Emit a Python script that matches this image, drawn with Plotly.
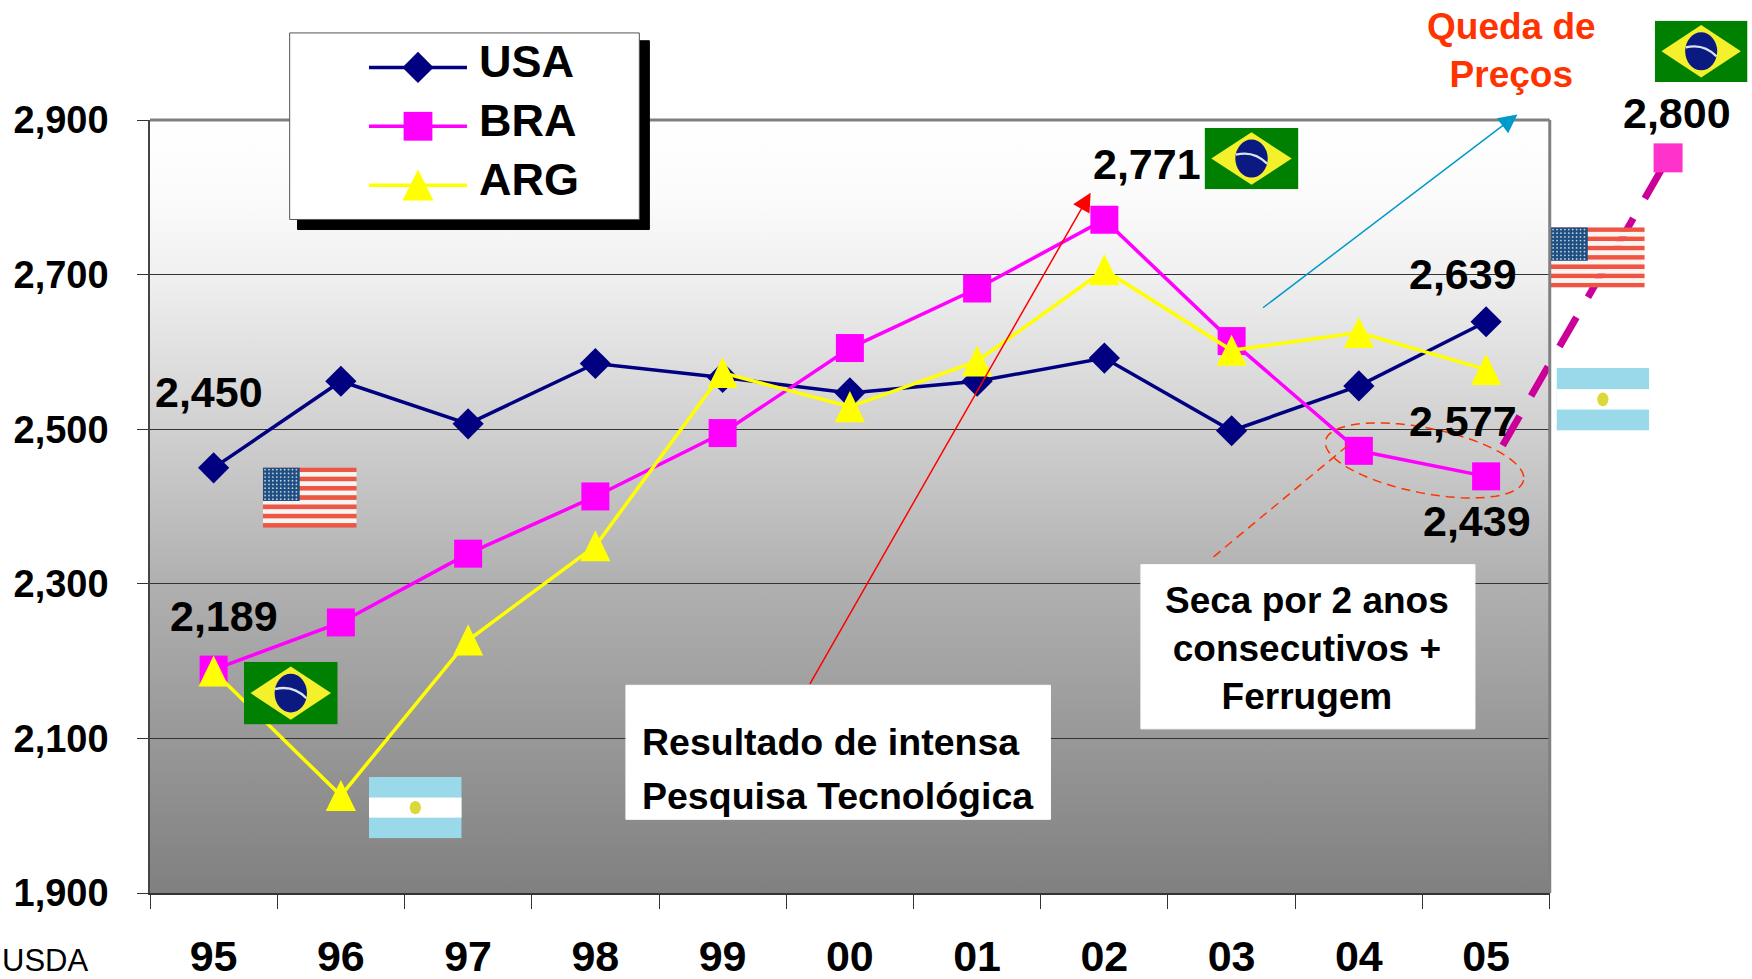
import base64
import numpy as np
import plotly.graph_objects as go

W, H = 1752, 979
L, R, T, B = 149.7, 1549.7, 119.5, 892.7
PW = W - L          # full plotting width, the real axes take only part of it
S = 1752 / 1568

years = ["95", "96", "97", "98", "99", "00", "01", "02", "03", "04", "05"]
x_pos = list(range(len(years)))
usa = [2450, 2562, 2507, 2585, 2567, 2547, 2562, 2592, 2498, 2556, 2639]
bra = [2189, 2250, 2339, 2413, 2495, 2605, 2682, 2771, 2614, 2472, 2439]
arg = [2187, 2026, 2227, 2349, 2573, 2529, 2588, 2706, 2602, 2625, 2577]
proj_x = [10.13, 11.43]
proj_y = [2479, 2851]
y_ticks = [1900, 2100, 2300, 2500, 2700, 2900]

def px(x): return (x * S - L) / PW
def py(y): return (B - y * S) / (B - T)
AX_END = (R - L) / PW

def uri(svg):
    return "data:image/svg+xml;base64," + base64.b64encode(svg.encode()).decode()

stops = [(0, 255), (0.1, 251), (0.2, 240), (0.4, 208), (0.6, 176), (0.8, 152), (1, 128)]
stop_tags = "".join(f'<stop offset="{o}" stop-color="rgb({v},{v},{v})"/>' for o, v in stops)
grad = ('<svg xmlns="http://www.w3.org/2000/svg" width="100" height="100" preserveAspectRatio="none">'
        '<defs><linearGradient id="g" x1="0" y1="0" x2="0" y2="1">' + stop_tags + '</linearGradient></defs>'
        '<rect width="100" height="100" fill="url(#g)"/></svg>')
brazil = ('<svg xmlns="http://www.w3.org/2000/svg" width="84" height="55" viewBox="0 0 84 55" preserveAspectRatio="none">'
          '<rect width="84" height="55" fill="#008000"/><polygon points="42,4 78,27.5 42,51 6,27.5" fill="#F4F02C"/>'
          '<ellipse cx="42" cy="27.5" rx="14.5" ry="17" fill="#0A1A80"/>'
          '<path d="M28,24 Q44,20 56,32" stroke="#D8E4F0" stroke-width="2" fill="none"/></svg>')
stripes = "".join(f'<rect y="{i * 54 / 13:.2f}" width="84" height="{54 / 13:.2f}" fill="{"#EE5544" if i % 2 == 0 else "#FAF4F0"}"/>' for i in range(13))
dots = "".join(f'<circle cx="{2 + c * 3.5:.1f}" cy="{2 + r * 3.3:.1f}" r="0.8" fill="#C0D0E0"/>' for r in range(9) for c in range(9))
usflag = ('<svg xmlns="http://www.w3.org/2000/svg" width="84" height="54" viewBox="0 0 84 54" preserveAspectRatio="none">'
          + stripes + '<rect width="33" height="30" fill="#1F4E80"/>' + dots + '</svg>')
argflag = ('<svg xmlns="http://www.w3.org/2000/svg" width="83" height="55" viewBox="0 0 83 55" preserveAspectRatio="none">'
           '<rect width="83" height="55" fill="#99D9EA"/><rect y="18.5" width="83" height="18" fill="#FFFFFF"/>'
           '<ellipse cx="41.5" cy="27.5" rx="5" ry="6" fill="#DDD83A"/></svg>')

def img(svg, x0, y0, x1, y1):
    return dict(source=uri(svg), xref="paper", yref="paper", x=px(x0), y=py(y0),
                sizex=(x1 - x0) * S / PW, sizey=(y1 - y0) * S / (B - T),
                xanchor="left", yanchor="top", sizing="stretch", layer="above")

images = [
    dict(source=uri(grad), xref="paper", yref="paper", x=0, y=1, sizex=AX_END, sizey=1,
         xanchor="left", yanchor="top", sizing="stretch", layer="below"),
    img(usflag, 235, 418, 319, 472), img(brazil, 218, 592, 302, 648), img(argflag, 330, 695, 413, 750),
    img(brazil, 1078, 114, 1162, 169), img(brazil, 1481, 18, 1564, 73),
    img(usflag, 1388, 203, 1472, 257), img(argflag, 1393, 329, 1476, 385),
]

FONT = "Liberation Sans"
fig = go.Figure()
fig.add_trace(go.Scatter(x=x_pos, y=usa, name="<b>\u2009USA</b>", mode="lines+markers",
                         line=dict(color="#000080", width=3.5),
                         marker=dict(symbol="diamond", size=24, color="#000080")))
fig.add_trace(go.Scatter(x=x_pos, y=bra, name="<b>\u2009BRA</b>", mode="lines+markers",
                         line=dict(color="#FF00FF", width=3.5),
                         marker=dict(symbol="square", size=28, color="#FF00FF")))
fig.add_trace(go.Scatter(x=x_pos, y=arg, name="<b>\u2009ARG</b>", mode="lines+markers",
                         line=dict(color="#FFFF00", width=3.5),
                         marker=dict(symbol="triangle-up", size=30, color="#FFFF00")))
fig.add_trace(go.Scatter(x=proj_x, y=proj_y, mode="lines", showlegend=False, xaxis="x2", yaxis="y2",
                         line=dict(color="#CC0099", width=7, dash="34px 23px")))
fig.add_trace(go.Scatter(x=proj_x[-1:], y=proj_y[-1:], mode="markers", showlegend=False, xaxis="x2", yaxis="y2",
                         marker=dict(symbol="square", size=29, color="#FF33CC")))

def rect(x0, y0, x1, y1, fill, line=None):
    return dict(type="rect", xref="paper", yref="paper", x0=px(x0), x1=px(x1), y0=py(y0), y1=py(y1),
                fillcolor=fill, line=dict(color=line or fill, width=1), layer="above")

th = np.linspace(0, 2 * np.pi, 90)
a, b, rot = 101, 32.5, np.radians(11.3)
ex = 1424.5 + a * np.cos(th) * np.cos(rot) - b * np.sin(th) * np.sin(rot)
ey = 460 + a * np.cos(th) * np.sin(rot) + b * np.sin(th) * np.cos(rot)
ell = "M" + "L".join(f"{(u - L) / PW:.5f},{(B - v) / (B - T):.5f}" for u, v in zip(ex, ey)) + "Z"

shapes = [
    dict(type="line", xref="paper", yref="paper", x0=0, x1=AX_END, y0=1, y1=1, line=dict(color="#808080", width=3), layer="above"),
    dict(type="line", xref="paper", yref="paper", x0=AX_END, x1=AX_END, y0=0, y1=1, line=dict(color="#808080", width=3), layer="above"),
    rect(266, 36, 581, 205, "#000000"),
    rect(259, 29, 572, 196, "#FFFFFF", "#555555"),
    rect(560, 613, 940, 733, "#FFFFFF"),
    rect(1021, 505, 1320, 652, "#FFFFFF"),
    dict(type="path", xref="paper", yref="paper", path=ell, line=dict(color="#FF3300", width=1.5, dash="9px 6px"), layer="above"),
    dict(type="line", xref="paper", yref="paper", x0=px(1086), y0=py(498), x1=px(1209), y1=py(396),
         line=dict(color="#FF3300", width=1.5, dash="9px 6px"), layer="above"),
]

def txt(text, x, y, size, color="#000000", bold=True, anchor="center"):
    return dict(text=f"<b>{text}</b>" if bold else text, xref="paper", yref="paper", x=px(x), y=py(y),
                xanchor=anchor, yanchor="middle", showarrow=False,
                font=dict(family=FONT, size=size, color=color))

def arrow(x0, y0, x1, y1, color):
    return dict(text="", xref="paper", yref="paper", x=px(x1), y=py(y1), axref="pixel", ayref="pixel",
                ax=(x0 - x1) * S, ay=(y0 - y1) * S, showarrow=True, arrowcolor=color,
                arrowhead=2, arrowsize=2.5, arrowwidth=1.5, standoff=0)

labels = [("2,450", 187, 350), ("2,189", 200, 551), ("2,771", 1026, 146), ("2,639", 1309, 245),
          ("2,577", 1309, 376), ("2,439", 1322, 466), ("2,800", 1501, 101)]
annotations = [txt(t, x, y, 43) for t, x, y in labels]
annotations += [
    txt("Queda de<br>Preços", 1353, 45, 37, color="#FF3300"),
    txt("Seca por 2 anos<br>consecutivos +<br>Ferrugem", 1170, 580, 37),
    txt("Resultado de intensa", 573, 664, 37.5, anchor="left"),
    txt("Pesquisa Tecnológica", 573, 712, 37.5, anchor="left"),
    txt("USDA", 0, 859, 31, bold=False, anchor="left"),
    arrow(724, 613, 976, 172, "#FF0000"),
    arrow(1129, 276, 1358, 102, "#0099CC"),
]

fig.update_layout(
    width=W, height=H, autosize=False,
    margin=dict(l=L, r=0, t=T, b=H - B, pad=0, autoexpand=False),
    paper_bgcolor="#FFFFFF", plot_bgcolor="rgba(0,0,0,0)",
    images=images, shapes=shapes, annotations=annotations,
    legend=dict(x=px(330) - 5 / PW, y=py(29), xanchor="left", yanchor="top", bgcolor="rgba(0,0,0,0)",
                itemwidth=98, borderwidth=0, tracegroupgap=0,
                font=dict(family=FONT, size=43, color="#000000"), traceorder="normal"),
    xaxis=dict(domain=[0, AX_END], range=[-0.5, 10.5], tickmode="array", tickvals=x_pos,
               ticktext=[f"<b>{y}</b>" for y in years],
               tickfont=dict(family=FONT, size=43, color="#000000"), ticks="", ticklabelstandoff=24,
               showgrid=False, zeroline=False, showline=True, linecolor="#333333", linewidth=2,
               minor=dict(tickmode="array", tickvals=[i - 0.5 for i in range(12)], ticks="outside",
                          ticklen=14, tickcolor="#333333", tickwidth=1, showgrid=False)),
    yaxis=dict(range=[1900, 2900], tickmode="array", tickvals=y_ticks,
               ticktext=[f"<b>{v:,}</b>" for v in y_ticks],
               tickfont=dict(family=FONT, size=38, color="#000000"), ticks="outside", ticklen=11,
               tickcolor="#333333", ticklabelstandoff=21, showgrid=True, gridcolor="#333333", gridwidth=1,
               zeroline=False, showline=True, linecolor="#444444", linewidth=1.5),
    xaxis2=dict(domain=[0, 1], range=[-0.5, -0.5 + 11 * PW / (R - L)], visible=False, anchor="y2"),
    yaxis2=dict(domain=[0, 1], range=[1900, 2900], visible=False, anchor="x2"),
    showlegend=True, hovermode=False,
)

post = """
document.body.style.margin='0';document.documentElement.style.overflow='hidden';
var add=function(p,t){p.setAttribute('transform',(p.getAttribute('transform')||'')+t);};
var legendScale=[' scale(1.5)',' scale(1.8)',' translate(0,5) scale(1.68,2.6)'];
document.querySelectorAll('.legend .legendpoints path.scatterpts').forEach(function(p,i){add(p,legendScale[i]);});
document.querySelectorAll('.legend text.legendtext').forEach(function(p){add(p,' translate(-2,-7)');p.style.fontSize='45px';});
var tr=document.querySelectorAll('.cartesianlayer .subplot.xy .scatterlayer .trace')[2];
tr.querySelectorAll('.points path').forEach(function(p){add(p,' translate(0,5) scale(.87,1.38)');});
"""
fig.write_html("out.html", post_script=post, config=dict(displayModeBar=False))
